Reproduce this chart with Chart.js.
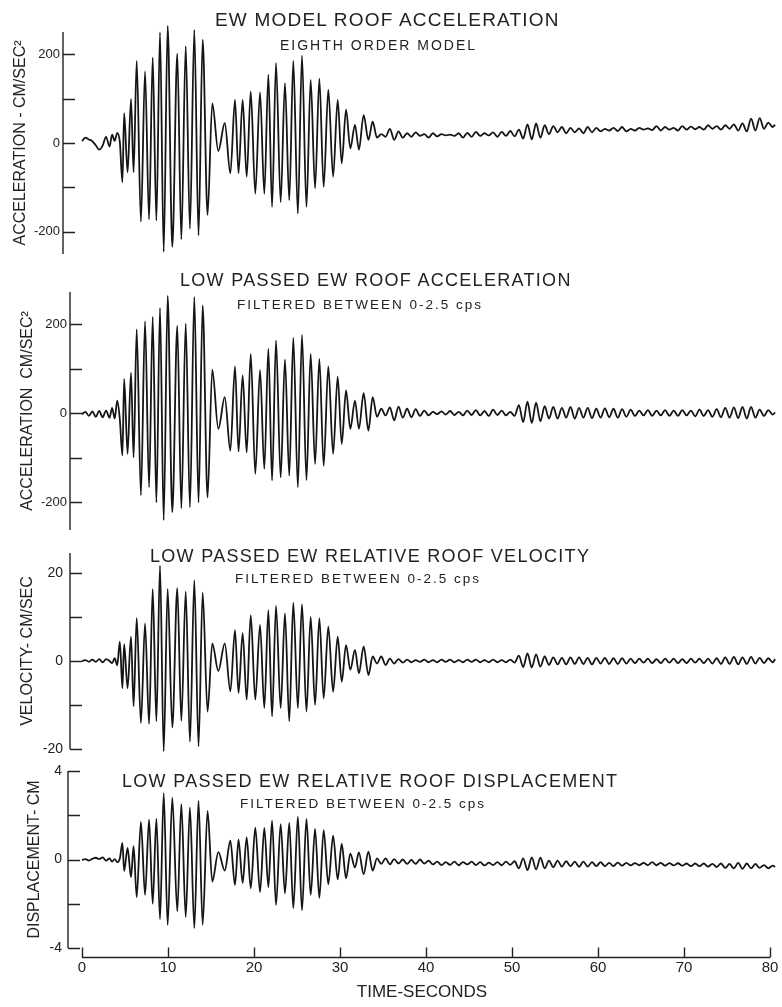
<!DOCTYPE html>
<html>
<head>
<meta charset="utf-8">
<title>EW roof response</title>
<script src="https://cdn.jsdelivr.net/npm/chart.js@4.4.1/dist/chart.umd.min.js"></script>
<style>
  body { margin: 0; background: #fff; }
  #page { position: relative; width: 782px; height: 1007px; overflow: hidden; background: #fff; }
  .panel { position: absolute; left: 0; }
  .ttl { position: absolute; white-space: nowrap; line-height: 1; color: #222; font-family: 'Liberation Sans', Arial, sans-serif; z-index: 2; }
  .main { font-size: 18px; letter-spacing: 1.3px; }
  .sub { font-size: 13.5px; letter-spacing: 2px; }
</style>
</head>
<body>
<div id="page">
  <div class="panel"><canvas id="chartModel"></canvas></div>
  <div class="panel"><canvas id="chartFiltered"></canvas></div>
  <div class="panel"><canvas id="chartVelocity"></canvas></div>
  <div class="panel"><canvas id="chartDisp"></canvas></div>

  <div class="ttl main" style="left:215px;top:10px;font-size:19px;letter-spacing:1.2px">EW MODEL ROOF ACCELERATION</div>
  <div class="ttl sub" style="left:280px;top:38px;font-size:14px">EIGHTH ORDER MODEL</div>

  <div class="ttl main" style="left:180px;top:271px">LOW PASSED EW ROOF ACCELERATION</div>
  <div class="ttl sub" style="left:237px;top:298px">FILTERED BETWEEN 0-2.5 cps</div>

  <div class="ttl main" style="left:150px;top:547px">LOW PASSED EW RELATIVE ROOF VELOCITY</div>
  <div class="ttl sub" style="left:235px;top:572px">FILTERED BETWEEN 0-2.5 cps</div>

  <div class="ttl main" style="left:122px;top:772px">LOW PASSED EW RELATIVE ROOF DISPLACEMENT</div>
  <div class="ttl sub" style="left:240px;top:797px">FILTERED BETWEEN 0-2.5 cps</div>
</div>

<script>
// turning points of the traces (seconds), shared by all four records
const seconds = [
  0, 0.4, 0.8, 1.2, 1.6, 2.0, 2.4, 2.8, 3.2, 3.5,
  3.8, 4.1, 4.4, 4.7, 4.9, 5.3, 5.7, 6.0, 6.36, 6.85,
  7.33, 7.8, 8.22, 8.65, 9.07, 9.5, 9.96, 10.5, 11.08, 11.55,
  12.06, 12.55, 13.06, 13.55, 14.03, 14.6, 15.15, 15.85, 16.6, 17.25,
  17.79, 18.2, 18.68, 19.15, 19.62, 20.15, 20.7, 21.2, 21.67, 22.1,
  22.56, 23.1, 23.6, 24.1, 24.57, 25.1, 25.58, 26.1, 26.59, 27.1,
  27.6, 28.1, 28.64, 29.2, 29.73, 30.2, 30.7, 31.2, 31.74, 32.2,
  32.75, 33.3, 33.8, 34.3, 34.8, 35.3, 35.8, 36.3, 36.8, 37.3,
  37.8, 38.3, 38.8, 39.3, 39.8, 40.3, 40.8, 41.3, 41.8, 42.3,
  42.8, 43.3, 43.8, 44.3, 44.8, 45.3, 45.8, 46.3, 46.8, 47.3,
  47.8, 48.3, 48.8, 49.3, 49.8, 50.3, 50.8, 51.3, 51.8, 52.3,
  52.8, 53.3, 53.8, 54.3, 54.8, 55.3, 55.8, 56.3, 56.8, 57.3,
  57.8, 58.3, 58.8, 59.3, 59.8, 60.3, 60.8, 61.3, 61.8, 62.3,
  62.8, 63.3, 63.8, 64.3, 64.8, 65.3, 65.8, 66.3, 66.8, 67.3,
  67.8, 68.3, 68.8, 69.3, 69.8, 70.3, 70.8, 71.3, 71.8, 72.3,
  72.8, 73.3, 73.8, 74.3, 74.8, 75.3, 75.8, 76.3, 76.8, 77.3,
  77.8, 78.3, 78.8, 79.3, 79.8, 80.3, 80.6
];

// EW model roof acceleration, cm/sec^2
const accelModel = [
  4, 12, 8, 4, -5, -15, -6, 14, -8, 19,
  5, 23, 2, -88, 67, -66, 99, -66, 185, -177,
  161, -172, 192, -175, 249, -245, 264, -234, 201, -217,
  218, -193, 255, -208, 233, -162, 89, -18, 45, -68,
  97, -68, 97, -76, 116, -114, 114, -114, 154, -144,
  180, -133, 135, -129, 185, -159, 197, -144, 142, -102,
  145, -99, 120, -76, 97, -46, 75, -12, 41, -15,
  63, 7, 48, 12, 20, 14, 32, 7, 26, 12,
  22, 14, 24, 16, 20, 12, 22, 15, 20, 17,
  19, 16, 22, 12, 23, 14, 25, 16, 22, 17,
  24, 14, 25, 16, 27, 15, 30, 10, 42, 8,
  44, 12, 40, 20, 38, 24, 36, 22, 34, 24,
  33, 22, 36, 24, 34, 26, 32, 28, 34, 27,
  36, 26, 32, 28, 34, 30, 33, 29, 38, 28,
  36, 30, 34, 28, 38, 30, 37, 31, 36, 30,
  40, 32, 38, 30, 40, 32, 42, 28, 44, 26,
  55, 28, 56, 32, 46, 36, 41
];

// low passed EW roof acceleration, cm/sec^2
const accelFiltered = [
  -2, 3, -6, 4, -8, 5, -9, 6, -10, 12,
  -12, 28, -14, -95, 77, -91, 91, -99, 188, -184,
  206, -166, 216, -200, 236, -240, 263, -222, 196, -213,
  201, -211, 261, -200, 242, -189, 98, -35, 36, -84,
  105, -86, 85, -88, 133, -136, 97, -125, 145, -151,
  163, -144, 121, -140, 169, -166, 176, -150, 133, -114,
  122, -118, 105, -91, 82, -69, 51, -35, 28, -35,
  45, -39, 36, -8, 10, -5, 13, -16, 15, -10,
  10, -9, 9, -6, 6, -5, 3, -2, 4, -3,
  5, -4, 3, -5, 6, -4, 7, -5, 5, -6,
  8, -4, 6, -5, 3, -6, 18, -20, 26, -22,
  24, -18, 16, -12, 14, -12, 12, -10, 14, -12,
  12, -10, 12, -11, 10, -10, 11, -9, 10, -10,
  9, -8, 8, -6, 6, -5, 7, -6, 6, -5,
  7, -6, 6, -6, 7, -5, 6, -7, 8, -6,
  7, -8, 9, -9, 12, -10, 13, -11, 14, -12,
  14, -10, 8, -6, 7, -3, 2
];

// low passed EW relative roof velocity, cm/sec
const velocity = [
  0, 0.2, -0.2, 0.3, -0.2, 0.4, -0.3, 0.4, 0.0, -0.5,
  0.6, -1.0, 4.4, -6.2, 3.8, -6.2, 5.5, -10.3, 9.7, -14.1,
  8.5, -14.3, 16.3, -13.7, 21.6, -20.5, 16.3, -15.1, 16.5, -13.6,
  15.7, -18.3, 18.3, -19.4, 15.5, -11.5, 4, -2.3, 4, -6.9,
  7, -7.3, 6.3, -8.8, 10.4, -8.8, 8.2, -10.7, 11.5, -12.6,
  12.5, -10.7, 10.8, -13.7, 13.2, -10.7, 12.9, -11.5, 10, -10,
  9.7, -8.5, 7.8, -7, 5.5, -4.7, 3.6, -2, 2.5, -2.8,
  3.3, -3.2, 1, -0.6, 1.0, -0.9, 0.5, -0.6, 0.4, -0.4,
  0.3, -0.3, 0.2, -0.2, 0.3, -0.3, 0.2, -0.3, 0.3, -0.2,
  0.3, -0.3, 0.2, -0.3, 0.3, -0.2, 0.3, -0.3, 0.2, -0.3,
  0.3, -0.3, 0.2, -0.3, 0.3, -0.4, 1.2, -1.4, 1.7, -1.5,
  1.5, -1.3, 1.0, -0.9, 0.8, -0.8, 0.7, -0.8, 0.8, -0.7,
  0.8, -0.7, 0.7, -0.8, 0.7, -0.6, 0.7, -0.7, 0.6, -0.7,
  0.6, -0.6, 0.5, -0.5, 0.5, -0.4, 0.5, -0.5, 0.4, -0.5,
  0.5, -0.4, 0.5, -0.5, 0.4, -0.5, 0.5, -0.4, 0.5, -0.5,
  0.5, -0.6, 0.6, -0.7, 0.8, -0.7, 0.9, -0.8, 0.8, -0.7,
  0.9, -0.6, 0.7, -0.5, 0.6, -0.3, 0.4
];

// low passed EW relative roof displacement, cm
const displacement = [
  -0.02, 0.02, -0.05, 0.03, 0.08, 0.02, 0.1, -0.05, 0.05, -0.1,
  0.02, -0.12, 0.05, 0.75, -0.52, 0.52, -0.8, 0.6, -1.7, 1.7,
  -1.6, 1.8, -2.0, 1.85, -2.7, 3.0, -2.95, 2.8, -2.35, 2.5,
  -2.6, 2.35, -3.1, 2.65, -2.95, 2.2, -1.0, 0.33, -0.5, 0.85,
  -1.15, 0.9, -1.06, 1.0, -1.3, 1.44, -1.47, 1.43, -1.25, 1.76,
  -2.06, 1.6, -1.54, 1.65, -2.2, 1.94, -2.3, 1.84, -1.6, 1.38,
  -1.73, 1.33, -1.12, 1.08, -0.9, 0.7, -0.85, 0.27, -0.36, 0.32,
  -0.67, 0.36, -0.5, 0.05, -0.2, 0.05, -0.22, 0.02, -0.18, 0.0,
  -0.2, -0.02, -0.2, 0.0, -0.18, -0.05, -0.22, -0.1, -0.25, -0.12,
  -0.24, -0.1, -0.26, -0.12, -0.22, -0.1, -0.25, -0.12, -0.27, -0.14,
  -0.25, -0.12, -0.26, -0.1, -0.24, -0.08, -0.4, 0.05, -0.48, 0.1,
  -0.45, 0.08, -0.4, -0.05, -0.35, -0.05, -0.32, -0.08, -0.3, -0.1,
  -0.33, -0.1, -0.32, -0.12, -0.3, -0.12, -0.3, -0.15, -0.3, -0.14,
  -0.28, -0.15, -0.27, -0.16, -0.26, -0.15, -0.25, -0.12, -0.26, -0.15,
  -0.28, -0.16, -0.27, -0.17, -0.28, -0.18, -0.3, -0.18, -0.3, -0.18,
  -0.32, -0.2, -0.34, -0.18, -0.38, -0.2, -0.4, -0.15, -0.42, -0.18,
  -0.4, -0.2, -0.38, -0.25, -0.4, -0.28, -0.33
];

const accelTicks = [-200, -100, 0, 100, 200];
const velocityTicks = [-20, -10, 0, 10, 20];
const dispTicks = [-4, -2, 0, 2, 4];
const timeTicks = [0, 10, 20, 30, 40, 50, 60, 70, 80];

const ink = '#222';
Chart.defaults.font.family = "'Liberation Sans', Arial, sans-serif";
Chart.defaults.color = ink;

// page geometry: t = 0 sits at x = 82 px, 8.6 px per second
const zeroPx = 82;
const pxPerSec = 8.6;
const rightPx = 776;

// hand-drawn style axes: line on the left, ticks pointing into the plot
const paperAxes = {
    id: 'paperAxes',
    afterDatasetsDraw(chart, args, o) {
        const { ctx, chartArea: a, scales: { x, y } } = chart;
        ctx.save();
        ctx.strokeStyle = ink;
        ctx.lineWidth = 1.4;
        ctx.beginPath();
        ctx.moveTo(a.left, y.getPixelForValue(o.axisTop));
        ctx.lineTo(a.left, y.getPixelForValue(o.axisBottom));
        o.ticks.forEach(v => {
            const py = Math.round(y.getPixelForValue(v)) + 0.5;
            ctx.moveTo(a.left, py);
            ctx.lineTo(a.left + 12, py);
        });
        if (o.timeAxis) {
            const ay = a.bottom + 9.5;
            ctx.moveTo(x.getPixelForValue(timeTicks[0]), ay);
            ctx.lineTo(x.getPixelForValue(timeTicks[timeTicks.length - 1]), ay);
            timeTicks.forEach(t => {
                const px = Math.round(x.getPixelForValue(t)) + 0.5;
                ctx.moveTo(px, ay);
                ctx.lineTo(px, ay - 10);
            });
        }
        ctx.stroke();
        ctx.restore();
    }
};

const panels = [
    { canvas: 'chartModel', values: accelModel, ticks: accelTicks, labelled: [-200, 0, 200],
      min: -250, max: 250, left: 63, top: 32, bottom: 254,
      title: 'ACCELERATION - CM/SEC²', titlePad: 11, tickPad: 3, tickFont: 13 },
    { canvas: 'chartFiltered', values: accelFiltered, ticks: accelTicks, labelled: [-200, 0, 200],
      min: -262, max: 272, left: 70, top: 292, bottom: 530,
      title: 'ACCELERATION  CM/SEC²', titlePad: 18, tickPad: 3, tickFont: 13 },
    { canvas: 'chartVelocity', values: velocity, ticks: velocityTicks, labelled: [-20, 0, 20],
      min: -20, max: 24.5, left: 70, top: 553, bottom: 749,
      title: 'VELOCITY- CM/SEC', titlePad: 18, tickPad: 7, tickFont: 14 },
    { canvas: 'chartDisp', values: displacement, ticks: dispTicks, labelled: [-4, 0, 4],
      min: -4, max: 4, left: 68, top: 771, bottom: 948,
      title: 'DISPLACEMENT- CM', titlePad: 25, tickPad: 6, tickFont: 14, timeAxis: true }
];

panels.forEach(p => {
    const padTop = 12;
    const xAxisH = p.timeAxis ? 1007 - p.bottom : 0;
    const padBottom = p.timeAxis ? 0 : 12;
    const cv = document.getElementById(p.canvas);
    cv.parentNode.style.top = (p.top - padTop) + 'px';
    cv.width = 782;
    cv.height = p.bottom - p.top + padTop + padBottom + xAxisH;

    new Chart(cv, {
        type: 'line',
        data: {
            datasets: [{
                data: seconds.map((t, i) => ({ x: t, y: p.values[i] })),
                borderColor: '#151515',
                borderWidth: 1.8,
                pointRadius: 0,
                cubicInterpolationMode: 'monotone',
                clip: false,
                fill: false
            }]
        },
        options: {
            responsive: false,
            animation: false,
            events: [],
            layout: { padding: { top: padTop, bottom: padBottom, left: 0, right: 782 - rightPx } },
            plugins: {
                legend: { display: false },
                tooltip: { enabled: false },
                paperAxes: { ticks: p.ticks, axisTop: p.max, axisBottom: p.min, timeAxis: !!p.timeAxis }
            },
            scales: {
                x: {
                    type: 'linear',
                    display: !!p.timeAxis,
                    min: (p.left - zeroPx) / pxPerSec,
                    max: (rightPx - zeroPx) / pxPerSec,
                    afterBuildTicks: s => { s.ticks = timeTicks.map(v => ({ value: v })); },
                    afterFit: s => {
                        if (p.timeAxis) s.height = xAxisH;
                        s.paddingLeft = 0;
                        s.paddingRight = 0;
                    },
                    grid: { display: false, drawTicks: false },
                    border: { display: false },
                    ticks: { padding: 11, maxRotation: 0, autoSkip: false, color: ink, font: { size: 15 } },
                    title: { display: true, text: 'TIME-SECONDS', color: ink, font: { size: 17 }, padding: { top: 0, bottom: 4 } }
                },
                y: {
                    type: 'linear',
                    min: p.min,
                    max: p.max,
                    afterBuildTicks: s => { s.ticks = p.ticks.map(v => ({ value: v })); },
                    afterFit: s => {
                        s.width = p.left;
                        s.paddingTop = 0;
                        s.paddingBottom = 0;
                    },
                    grid: { display: false, drawTicks: false },
                    border: { display: false },
                    ticks: {
                        padding: p.tickPad,
                        autoSkip: false,
                        color: ink,
                        font: { size: p.tickFont },
                        callback: v => p.labelled.includes(v) ? String(v) : ''
                    },
                    title: { display: true, text: p.title, color: ink, font: { size: 16 }, padding: { top: p.titlePad, bottom: 0 } }
                }
            }
        },
        plugins: [paperAxes]
    });
});
</script>
</body>
</html>
